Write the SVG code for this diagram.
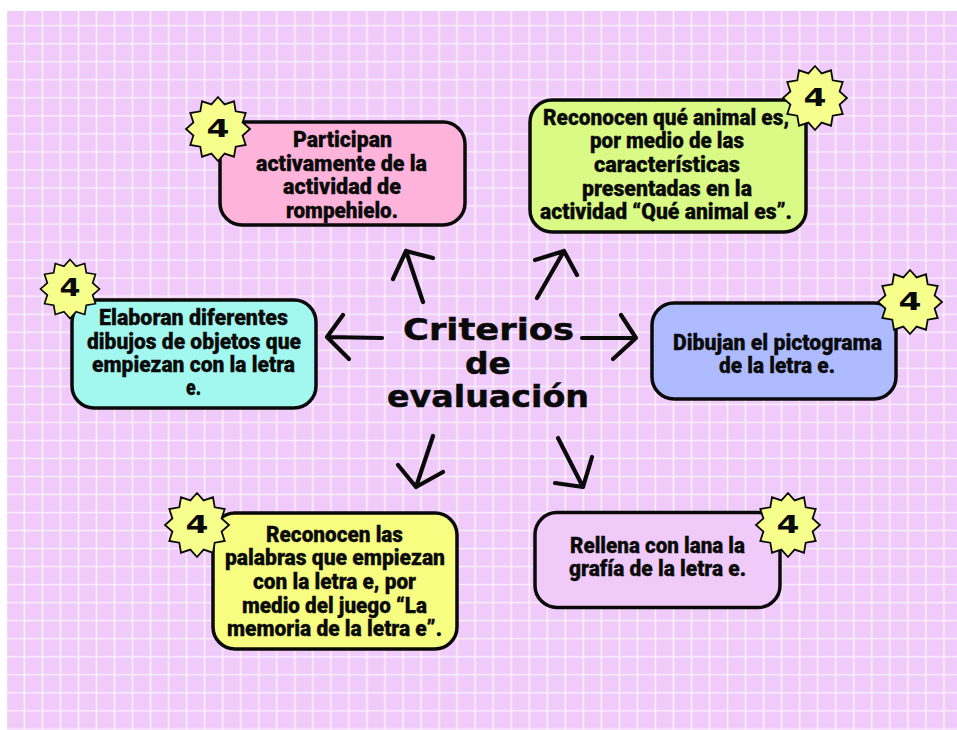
<svg xmlns="http://www.w3.org/2000/svg" width="957" height="730" viewBox="0 0 957 730">
<style>
.box{stroke:#0a0a0a;stroke-width:3.5}
.t{font-family:"Roboto","Liberation Sans",sans-serif;font-weight:900;font-size:21.5px;fill:#0a0a0a;stroke:#0a0a0a;stroke-width:.3;text-anchor:middle}
.h{font-family:"DejaVu Sans",sans-serif;font-weight:700;font-size:30px;fill:#0a0a0a;stroke:#0a0a0a;stroke-width:.5;text-anchor:middle}
.n{font-family:"DejaVu Sans",sans-serif;font-weight:700;font-size:25px;fill:#0a0a0a;text-anchor:middle}
.star{fill:#f6fe8c;stroke:#0a0a0a;stroke-width:1.8;stroke-linejoin:miter}
.arrow{fill:none;stroke:#0a0a0a;stroke-width:4.2;stroke-linecap:round;stroke-linejoin:round}
</style>
<defs>
<pattern id="grid" patternUnits="userSpaceOnUse" x="15.4" y="16.7" width="18.03" height="18.03">
<rect width="18.03" height="18.03" fill="#f0caf9"/>
<path d="M9 0V18.03M0 9H18.03" stroke="#fbf0fd" stroke-width="1.6" fill="none"/>
</pattern>
<polygon id="s" points="0,-32 6.6,-24.6 16,-27.7 17.7,-17.7 27.7,-16 24.6,-6.6 32,0 24.6,6.6 27.7,16 17.7,17.7 16,27.7 6.6,24.6 0,32 -6.6,24.6 -16,27.7 -17.7,17.7 -27.7,16 -24.6,6.6 -32,0 -24.6,-6.6 -27.7,-16 -17.7,-17.7 -16,-27.7 -6.6,-24.6"/>
</defs>
<rect x="7" y="11" width="950" height="719" fill="url(#grid)"/>
<g id="connectors" class="arrow">
<path d="M423 302L406 251M393 279L406 251L433 258"/>
<path d="M537 298L564 251M535 260L564 251L577 275"/>
<path d="M382 338L327 337M343 315L327 337L349 359"/>
<path d="M582 338L636 338M621 315L636 338L613 359"/>
<path d="M433 436L416 487M398 465L416 487L443 472"/>
<path d="M558 438L583 487M555 483L583 487L592 457"/>
</g>
<g id="center">
<text class="h" x="488.500" y="340" textLength="171" lengthAdjust="spacingAndGlyphs">Criterios</text>
<text class="h" x="488" y="374" textLength="46" lengthAdjust="spacingAndGlyphs">de</text>
<text class="h" x="488" y="407" textLength="202" lengthAdjust="spacingAndGlyphs">evaluación</text>
</g>
<g id="node-participan">
<rect class="box" x="220" y="122" width="245" height="103" rx="22" fill="#feb3da"/>
<use href="#s" class="star" x="218" y="129"/>
<text class="n" x="218" y="137" textLength="23" lengthAdjust="spacingAndGlyphs">4</text>
<text class="t" x="342.500" y="147" textLength="99" lengthAdjust="spacingAndGlyphs">Participan</text>
<text class="t" x="341.500" y="171" textLength="171" lengthAdjust="spacingAndGlyphs">activamente de la</text>
<text class="t" x="342" y="194" textLength="118" lengthAdjust="spacingAndGlyphs">actividad de</text>
<text class="t" x="342" y="218" textLength="112" lengthAdjust="spacingAndGlyphs">rompehielo.</text>
</g>
<g id="node-reconocen-animal">
<rect class="box" x="530" y="100" width="276" height="132" rx="22" fill="#d9fb85"/>
<use href="#s" class="star" x="815" y="98"/>
<text class="n" x="815" y="106" textLength="23" lengthAdjust="spacingAndGlyphs">4</text>
<text class="t" x="666" y="125" textLength="246" lengthAdjust="spacingAndGlyphs">Reconocen qué animal es,</text>
<text class="t" x="667" y="148" textLength="154" lengthAdjust="spacingAndGlyphs">por medio de las</text>
<text class="t" x="667" y="172" textLength="146" lengthAdjust="spacingAndGlyphs">características</text>
<text class="t" x="667" y="196" textLength="170" lengthAdjust="spacingAndGlyphs">presentadas en la</text>
<text class="t" x="666" y="219" textLength="252" lengthAdjust="spacingAndGlyphs">actividad “Qué animal es”.</text>
</g>
<g id="node-elaboran">
<rect class="box" x="72" y="300" width="244" height="108" rx="22" fill="#a2f8ee"/>
<use href="#s" class="star" transform="translate(70 289) scale(.92)"/>
<text class="n" x="70" y="296" textLength="21" lengthAdjust="spacingAndGlyphs">4</text>
<text class="t" x="193.500" y="325" textLength="189" lengthAdjust="spacingAndGlyphs">Elaboran diferentes</text>
<text class="t" x="194" y="349" textLength="214" lengthAdjust="spacingAndGlyphs">dibujos de objetos que</text>
<text class="t" x="193.500" y="372" textLength="203" lengthAdjust="spacingAndGlyphs">empiezan con la letra</text>
<text class="t" x="193.500" y="395" textLength="15" lengthAdjust="spacingAndGlyphs">e.</text>
</g>
<g id="node-dibujan">
<rect class="box" x="652" y="303" width="244" height="96" rx="22" fill="#aebcff"/>
<use href="#s" class="star" x="910" y="302"/>
<text class="n" x="910" y="310" textLength="23" lengthAdjust="spacingAndGlyphs">4</text>
<text class="t" x="777.500" y="350" textLength="209" lengthAdjust="spacingAndGlyphs">Dibujan el pictograma</text>
<text class="t" x="777" y="373" textLength="116" lengthAdjust="spacingAndGlyphs">de la letra e.</text>
</g>
<g id="node-reconocen-palabras">
<rect class="box" x="213" y="513" width="244" height="136" rx="22" fill="#f7fd80"/>
<use href="#s" class="star" x="197" y="525"/>
<text class="n" x="197" y="533" textLength="23" lengthAdjust="spacingAndGlyphs">4</text>
<text class="t" x="334.500" y="542" textLength="137" lengthAdjust="spacingAndGlyphs">Reconocen las</text>
<text class="t" x="335" y="565" textLength="220" lengthAdjust="spacingAndGlyphs">palabras que empiezan</text>
<text class="t" x="334.500" y="589" textLength="163" lengthAdjust="spacingAndGlyphs">con la letra e, por</text>
<text class="t" x="334.500" y="613" textLength="185" lengthAdjust="spacingAndGlyphs">medio del juego “La</text>
<text class="t" x="334.500" y="636" textLength="215" lengthAdjust="spacingAndGlyphs">memoria de la letra e”.</text>
</g>
<g id="node-rellena">
<rect class="box" x="535" y="512.500" width="245" height="95" rx="22" fill="#f0caf9"/>
<use href="#s" class="star" x="788" y="525"/>
<text class="n" x="788" y="533" textLength="23" lengthAdjust="spacingAndGlyphs">4</text>
<text class="t" x="657.500" y="553" textLength="175" lengthAdjust="spacingAndGlyphs">Rellena con lana la</text>
<text class="t" x="657.500" y="576" textLength="177" lengthAdjust="spacingAndGlyphs">grafía de la letra e.</text>
</g>
</svg>
